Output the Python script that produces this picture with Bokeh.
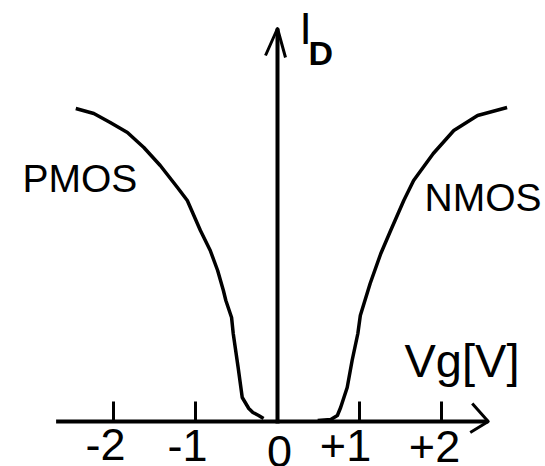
from bokeh.plotting import figure
from bokeh.models import Range1d
from bokeh.core.properties import value
from bokeh.embed import file_html
from bokeh.resources import INLINE

# Drain current vs gate voltage (arbitrary current units)
vg_nmos = [0.49, 0.65, 0.73, 0.77, 0.85, 0.91, 0.98, 1.01, 1.13, 1.26, 1.38,
           1.54, 1.66, 1.90, 2.15, 2.44, 2.80]
id_nmos = [0.01, 0.02, 0.06, 0.14, 0.34, 0.61, 0.88, 1.06, 1.38, 1.68, 1.91,
           2.21, 2.41, 2.68, 2.91, 3.06, 3.14]

vg_pmos = [-0.17, -0.23, -0.30, -0.35, -0.43, -0.48, -0.54, -0.56, -0.63, -0.66,
           -0.73, -0.82, -0.94, -1.10, -1.22, -1.43, -1.63, -1.83, -2.04, -2.24, -2.46]
id_pmos = [0.03, 0.06, 0.09, 0.13, 0.24, 0.54, 0.88, 1.04, 1.21, 1.31,
           1.51, 1.71, 1.91, 2.21, 2.34, 2.56, 2.74, 2.89, 2.99, 3.08, 3.13]

tick_values = [-2, -1, 0, 1, 2]
tick_labels = ["-2", "-1", "0", "+1", "+2"]

# axis extents in data units
x_axis_start, x_axis_end = -2.70, 2.57
y_axis_start, y_axis_end = -0.02, 3.93

# screen scale: pixels per volt and per current unit
SX, SY = 82.0, 100.0
W, H = 545, 466
X0_PX, Y0_PX = 277, 421

FONT = value("Liberation Sans")
# the svg text baseline sits lower than the nominal one; lift by a fraction of the size
BASELINE_LIFT = 0.38


def dx(px):
    return px / SX


def dy(px):
    return px / SY


def text_y(base_px, size_px):
    """data y for a text whose glyph baseline should land at screen row base_px"""
    return dy(Y0_PX - base_px + BASELINE_LIFT * size_px)


p = figure(width=W, height=H, output_backend="svg", toolbar_location=None,
           x_axis_type=None, y_axis_type=None, min_border=0,
           x_range=Range1d(-X0_PX / SX, (W - X0_PX) / SX),
           y_range=Range1d(-(H - Y0_PX) / SY, Y0_PX / SY))
p.grid.visible = False
p.outline_line_color = None
p.background_fill_color = "white"
p.border_fill_color = "white"

# axes
p.line([x_axis_start, x_axis_end], [0, 0], line_width=4, line_color="black")
p.line([0, 0], [y_axis_start, y_axis_end], line_width=4, line_color="black")

# open arrow heads
p.line([x_axis_end - dx(16), x_axis_end, x_axis_end - dx(18)],
       [dy(18), 0, -dy(11)], line_width=3, line_color="black", line_join="round")
p.line([-dx(12), 0, dx(8)],
       [y_axis_end - dy(27), y_axis_end, y_axis_end - dy(29)],
       line_width=3, line_color="black", line_join="round")

# ticks (no tick at the origin)
tx = [t for t in tick_values if t != 0]
p.segment(x0=tx, y0=[0] * len(tx), x1=tx, y1=[dy(20)] * len(tx),
          line_width=3, line_color="black")

# tick labels
TICK_SIZE = 45
label_shift_px = {"-2": -8, "-1": -8, "0": 2, "+1": -14, "+2": -7}
label_base_px = {"-2": 461, "-1": 462, "0": 468, "+1": 462, "+2": 463}
p.text(x=[t + dx(label_shift_px[s]) for t, s in zip(tick_values, tick_labels)],
       y=[text_y(label_base_px[s], TICK_SIZE) for s in tick_labels],
       text=tick_labels, text_font=FONT, text_font_size=f"{TICK_SIZE}px",
       text_align="center", text_baseline="alphabetic", text_color="black")

# curves
p.line(vg_nmos, id_nmos, line_width=3.5, line_color="black", line_join="round")
p.line(vg_pmos, id_pmos, line_width=3.5, line_color="black", line_join="round")

# annotations
p.text(x=[dx(22 - X0_PX)], y=[text_y(193, 39)], text=["PMOS"], text_font=FONT,
       text_font_size="39px", text_align="left", text_baseline="alphabetic")
p.text(x=[dx(424 - X0_PX)], y=[text_y(212, 39)], text=["NMOS"], text_font=FONT,
       text_font_size="39px", text_align="left", text_baseline="alphabetic")
p.text(x=[dx(404 - X0_PX)], y=[text_y(378, 47)], text=["Vg[V]"], text_font=FONT,
       text_font_size="47px", text_align="left", text_baseline="alphabetic")
p.text(x=[dx(299 - X0_PX)], y=[text_y(45, 44)], text=["I"], text_font=FONT,
       text_font_size="44px", text_align="left", text_baseline="alphabetic")
p.text(x=[dx(308 - X0_PX)], y=[text_y(65, 34)], text=["D"], text_font=FONT,
       text_font_size="34px", text_font_style="bold", text_align="left",
       text_baseline="alphabetic")

open("out.html", "w").write(file_html(p, INLINE))
